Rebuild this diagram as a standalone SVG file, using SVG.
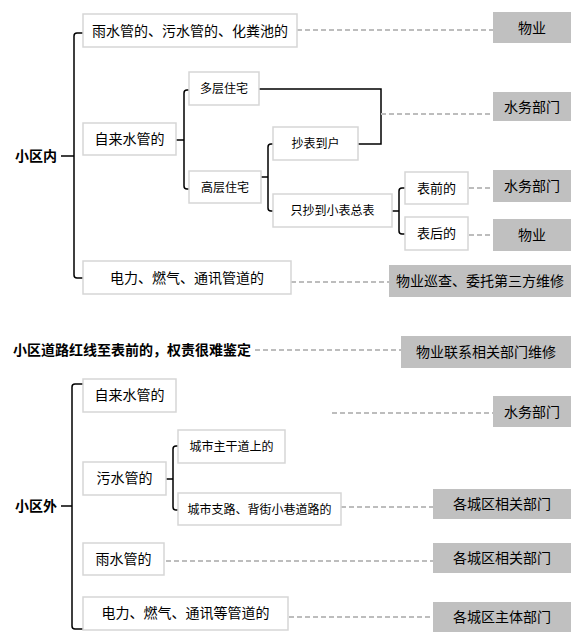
<svg xmlns="http://www.w3.org/2000/svg" width="586" height="642" viewBox="0 0 586 642">
<style>
text{font-family:"Noto Sans CJK SC","Noto Sans",sans-serif;fill:#000}
.b{fill:#fff;stroke:#d6d6d6;stroke-width:1.5}
.g{fill:#c0c0c0;stroke:none}
.t14{font-size:14px;text-anchor:middle}
.t12{font-size:12px;text-anchor:middle}
.t13{font-size:13px;text-anchor:middle}
.root{font-size:14px;font-weight:bold}
.ln{fill:none;stroke:#000;stroke-width:1.5}
.ds{fill:none;stroke:#bdbdbd;stroke-width:2;stroke-dasharray:5 3}
</style>
<g id="connectors">
<path class="ln" d="M61 156H74M83 33H77Q74 33 74 36V275Q74 278 77 278H83"/>
<path class="ln" d="M176 140H184M189 90H187Q184 90 184 93V186Q184 189 187 189H189"/>
<path class="ln" d="M259 89H381V144H358"/>
<path class="ln" d="M261 177H268M273 144H271Q268 144 268 147V208Q268 211 271 211H273"/>
<path class="ln" d="M392 211H399M405 188H402Q399 188 399 191V231Q399 234 402 234H405"/>
<path class="ln" d="M61 506H72M83 384H75Q72 384 72 387V626Q72 629 75 629H83"/>
<path class="ln" d="M166 479H173M178 446H176Q173 446 173 449V507Q173 510 176 510H178"/>
<path class="ds" d="M297 30H493"/>
<path class="ds" d="M381 114H493"/>
<path class="ds" d="M469 188H493"/>
<path class="ds" d="M469 235H493"/>
<path class="ds" d="M291 282H389"/>
<path class="ds" d="M255 350H401"/>
<path class="ds" d="M332 413H493"/>
<path class="ds" d="M341 507H433"/>
<path class="ds" d="M166 561H433"/>
<path class="ds" d="M289 617H433"/>
</g>
<g id="n_inner"><text class="root" x="15" y="161">小区内</text></g>
<g id="n1"><rect class="b" x="83" y="14" width="214" height="33"/><text class="t14" x="190" y="35.5">雨水管的、污水管的、化粪池的</text></g>
<g id="r1"><rect class="g" x="493" y="12" width="78" height="31"/><text class="t14" x="532" y="32.5">物业</text></g>
<g id="n2"><rect class="b" x="83" y="123" width="93" height="32"/><text class="t14" x="129.5" y="144">自来水管的</text></g>
<g id="n21"><rect class="b" x="189" y="72" width="70" height="33"/><text class="t12" x="224" y="93">多层住宅</text></g>
<g id="r2"><rect class="g" x="493" y="92" width="78" height="29"/><text class="t14" x="532" y="111.5">水务部门</text></g>
<g id="n22"><rect class="b" x="189" y="171" width="72" height="32"/><text class="t12" x="225" y="191.5">高层住宅</text></g>
<g id="n221"><rect class="b" x="273" y="127" width="85" height="33"/><text class="t12" x="315.5" y="148">抄表到户</text></g>
<g id="n222"><rect class="b" x="273" y="194" width="119" height="33"/><text class="t12" x="332.5" y="215">只抄到小表总表</text></g>
<g id="n2221"><rect class="b" x="405" y="172" width="63" height="32"/><text class="t13" x="436.5" y="192.5">表前的</text></g>
<g id="n2222"><rect class="b" x="405" y="217" width="63" height="33"/><text class="t13" x="436.5" y="238">表后的</text></g>
<g id="r3"><rect class="g" x="493" y="170" width="78" height="32"/><text class="t14" x="532" y="191">水务部门</text></g>
<g id="r4"><rect class="g" x="493" y="219" width="78" height="32"/><text class="t14" x="532" y="240">物业</text></g>
<g id="n3"><rect class="b" x="83" y="261" width="208" height="33"/><text class="t14" x="187" y="282.5">电力、燃气、通讯管道的</text></g>
<g id="r5"><rect class="g" x="389" y="265" width="182" height="32"/><text class="t14" x="480" y="286">物业巡查、委托第三方维修</text></g>
<g id="n_mid"><text class="root" x="13" y="355">小区道路红线至表前的，权责很难鉴定</text></g>
<g id="r6"><rect class="g" x="401" y="336" width="170" height="32"/><text class="t14" x="486" y="357">物业联系相关部门维修</text></g>
<g id="n_outer"><text class="root" x="15" y="511">小区外</text></g>
<g id="o1"><rect class="b" x="83" y="379" width="93" height="33"/><text class="t14" x="129.5" y="400">自来水管的</text></g>
<g id="r7"><rect class="g" x="493" y="396" width="78" height="31"/><text class="t14" x="532" y="416.5">水务部门</text></g>
<g id="o2"><rect class="b" x="83" y="462" width="83" height="33"/><text class="t14" x="124.5" y="483">污水管的</text></g>
<g id="o21"><rect class="b" x="178" y="430" width="107" height="33"/><text class="t12" x="231.5" y="451">城市主干道上的</text></g>
<g id="o22"><rect class="b" x="178" y="493" width="163" height="32"/><text class="t12" x="259.5" y="513.5">城市支路、背街小巷道路的</text></g>
<g id="r8"><rect class="g" x="433" y="489" width="138" height="30"/><text class="t14" x="502" y="509">各城区相关部门</text></g>
<g id="o3"><rect class="b" x="83" y="543" width="81" height="32"/><text class="t14" x="123.5" y="563.5">雨水管的</text></g>
<g id="r9"><rect class="g" x="433" y="543" width="138" height="30"/><text class="t14" x="502" y="563">各城区相关部门</text></g>
<g id="o4"><rect class="b" x="83" y="597" width="205" height="33"/><text class="t14" x="185.5" y="618">电力、燃气、通讯等管道的</text></g>
<g id="r10"><rect class="g" x="433" y="602" width="138" height="30"/><text class="t14" x="502" y="622">各城区主体部门</text></g>
</svg>
